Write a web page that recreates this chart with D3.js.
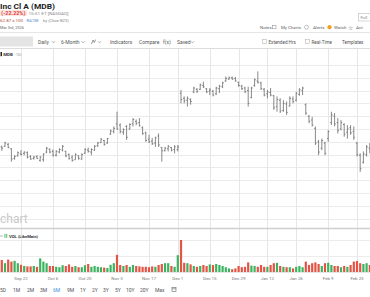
<!DOCTYPE html>
<html>
<head>
<meta charset="utf-8">
<script src="https://cdn.jsdelivr.net/npm/d3@7"></script>
<style>
  body { margin: 0; background: #fff; }
  svg { display: block; font-family: Roboto, "Open Sans", sans-serif; }
</style>
</head>
<body>
<div id="chart"></div>
<script>
// calendar of the visible session days
var startDay = "2025-09-11";
var endDay = "2026-03-03";
var holidays = ["2025-11-27", "2025-12-25", "2026-01-01", "2026-01-19", "2026-02-16"];
var tickDates = ["2025-09-22", "2025-10-06", "2025-10-20", "2025-11-03", "2025-11-17", "2025-12-01",
                 "2025-12-15", "2025-12-29", "2026-01-12", "2026-01-26", "2026-02-09", "2026-02-23"];

// daily OHLC, one value per session from Sep 11
var open = [309,312,313,316,309,294,298,301,302,303, 297,294,297,291,292,304,308,305,299,304,
            307,305,300,296,292,298,293,302,307,304, 307,314,319,322,318,332,336,348,346,335,
            344,340,348,352,350,342,334,324,321,318, 329,311,306,309,311,308,308,396,388,385,
            386,398,402,402,408,403,399,399,395,403, 406,415,418,420,419,413,407,404,400,389,
            408,415,412,402,395,397,392,375,385,369, 379,376,387,385,394,400,378,360,354,341,
            320,310,318,325,350,360,350,340,347,335, 342,336,318,299,288,300,310];
var high = [315,314,320,318,310,299,305,307,305,305, 299,298,299,298,302,312,310,308,307,310,
            315,306,302,299,302,299,302,310,311,310, 315,320,326,323,326,339,344,367,349,341,
            346,349,357,355,357,344,336,331,326,328, 333,312,312,315,312,315,315,401,391,391,
            388,406,404,411,414,404,404,401,406,409, 414,422,422,422,421,414,409,406,406,406,
            419,430,414,404,401,404,393,391,388,385, 383,391,391,398,404,406,380,362,359,344,
            323,325,320,338,367,365,357,354,349,346, 346,344,320,302,305,315,318];
var low = [307,306,312,310,289,292,297,299,299,294, 292,292,293,289,289,302,302,297,297,302,
           305,296,292,289,292,292,292,301,303,299, 306,312,318,314,317,331,333,339,333,331,
           323,339,344,346,344,331,320,318,315,312, 312,289,305,305,305,302,305,380,380,375,
           378,396,396,401,404,396,393,391,393,396, 404,414,417,417,414,406,401,396,375,388,
           406,411,401,391,388,391,370,367,365,367, 362,375,380,383,392,393,362,349,344,315,
           299,307,299,320,346,344,333,338,328,325, 331,323,297,273,286,297,302];
var close = [312,310,318,311,293,297,303,300,304,296, 293,296,294,296,301,310,304,299,305,308,
             313,298,294,291,300,294,300,308,305,308, 313,318,324,316,325,337,341,340,336,339,
             327,347,355,349,345,333,322,320,317,326, 315,306,310,313,307,312,312,386,384,388,
             383,404,399,409,406,398,401,393,404,407, 412,419,420,418,415,408,403,398,380,404,
             417,413,403,393,398,393,373,386,368,380, 366,388,383,396,401,404,365,352,346,318,
             304,322,302,336,362,348,338,350,332,340, 334,327,300,278,301,312,306];
// volume in millions
var volume = [3.0,3.0,2.2,3.1,2.6,2.8,2.2,1.8,1.5,1.4, 1.4,1.5,1.3,3.4,2.6,2.2,1.5,1.5,1.3,1.2,
              1.7,1.5,1.9,1.3,1.5,1.2,1.2,1.7,2.0,1.3, 1.5,1.3,1.2,1.1,1.0,1.8,2.2,4.3,1.75,1.5,
              1.75,1.3,1.75,1.5,1.4,1.3,1.3,1.2,1.4,1.3, 1.75,2.0,2.2,2.2,1.5,1.3,4.2,8.0,2.3,2.2,
              1.9,1.5,1.3,1.5,1.75,1.5,1.9,1.75,2.0,1.75, 1.5,1.2,0.9,0.7,0.9,1.5,1.2,1.3,2.4,1.6,
              1.5,1.3,1.75,1.3,1.3,1.75,2.2,2.3,1.5,1.3, 1.2,1.2,0.9,1.3,1.5,1.2,2.6,1.75,2.2,2.4,
              2.0,1.5,2.2,2.3,1.75,1.5,1.5,1.2,1.5,1.3, 1.75,2.6,2.75,2.2,2.0,2.2,1.75];

var periods = ["5D", "1M", "2M", "3M", "6M", "9M", "1Y", "2Y", "3Y", "5Y", "10Y", "20Y", "Max"];
var periodX = [0, 13, 27, 40, 53, 67, 80, 92, 103, 115, 126, 140, 155];

var width = 370, height = 297;
var svg = d3.select("#chart").append("svg")
  .attr("width", width)
  .attr("height", height);

var parse = d3.timeParse("%Y-%m-%d"), fmt = d3.timeFormat("%Y-%m-%d");
var days = d3.timeDay.range(parse(startDay), d3.timeDay.offset(parse(endDay), 1))
  .filter(d => d.getDay() != 0 && d.getDay() != 6 && holidays.indexOf(fmt(d)) < 0)
  .map(fmt);

var rows = open.map((o, i) => ({ date: days[i], o: o, h: high[i], l: low[i], c: close[i], v: volume[i] }));

// panes
var priceTop = 49, priceBottom = 227, volTop = 228, volBottom = 272;

var x = d3.scalePoint().domain(days).range([-1.4, 376.2]);
var yPrice = d3.scaleLinear().domain([186.9, 465]).range([priceBottom, priceTop]);
var yVol = d3.scaleLinear().domain([0, 11]).range([volBottom, volTop]);

function label(g, px, py, txt, size, color, weight, fit) {
  var t = g.append("text")
    .attr("x", px).attr("y", py)
    .attr("font-size", size)
    .attr("fill", color)
    .attr("font-weight", weight || "normal")
    .text(txt);
  if (fit) t.attr("textLength", fit).attr("lengthAdjust", "spacingAndGlyphs");
  return t;
}
function chevron(g, px, py) {
  g.append("path")
    .attr("d", `M${px},${py} l1.5,1.5 l1.5,-1.5`)
    .attr("fill", "none").attr("stroke", "#777").attr("stroke-width", 0.6);
}

// ---- header ----
var head = svg.append("g");
label(head, 0, 8.5, "Inc Cl A (MDB)", 8, "#222", "bold", 55);
head.append("rect").attr("x", 0).attr("y", 9.8).attr("width", 27).attr("height", 6.2)
  .attr("rx", 1).attr("fill", "#fde3e1");
label(head, 1.3, 14.6, "(-22.22%)", 5.3, "#d9443a", "bold", 24);
label(head, 28.5, 14.6, "15:51 ET [NASDAQ]", 4.2, "#8a8a8a", null, 40);
label(head, 0, 21.6, "62.87 x 100", 4.2, "#b04a3c", null, 23);
label(head, 26.5, 21.6, "REALTIME", 3.8, "#4b8bc8", null, 12);
label(head, 43, 21.6, "by (Cboe BZX)", 4.2, "#8a8a8a", null, 26);
label(head, 0, 28.6, "Mar 3rd, 2026", 4.2, "#666", null, 24);

head.append("rect").attr("x", 358.5).attr("y", 13.5).attr("width", 14).attr("height", 7.5)
  .attr("fill", "#fff").attr("stroke", "#bbb").attr("stroke-width", 0.6);
label(head, 360.5, 19, "Full", 4.3, "#888");

label(head, 260, 29, "Notes", 4.4, "#666");
head.append("rect").attr("x", 272.5).attr("y", 25.3).attr("width", 3.5).attr("height", 3.5)
  .attr("fill", "none").attr("stroke", "#888").attr("stroke-width", 0.5);
label(head, 281, 29, "My Charts", 4.4, "#666");
head.append("circle").attr("cx", 306.5).attr("cy", 27.2).attr("r", 2)
  .attr("fill", "none").attr("stroke", "#888").attr("stroke-width", 0.5);
label(head, 313, 29, "Alerts", 4.4, "#666");
head.append("circle").attr("cx", 329.5).attr("cy", 27.2).attr("r", 2.1).attr("fill", "#f0a020");
label(head, 334, 29, "Watch", 4.4, "#666");
label(head, 347.5, 29.5, "☆", 6, "#666");
label(head, 356, 29, "Act", 4.4, "#666");

head.append("line").attr("x1", 0).attr("x2", width).attr("y1", 32.5).attr("y2", 32.5)
  .attr("stroke", "#e6e6e6");

// ---- toolbar ----
var bar = svg.append("g");
bar.append("rect").attr("x", 0).attr("y", 36.5).attr("width", 33).attr("height", 10).attr("fill", "#e4e4e4");
label(bar, 38, 43.6, "Daily", 5, "#555"); chevron(bar, 52, 41.3);
label(bar, 61, 43.6, "6-Month", 5, "#555"); chevron(bar, 81.5, 41.3);
bar.append("path").attr("d", "M91.5,44 l1.6,-4 l1.2,2.5 l1.4,-3")
  .attr("fill", "none").attr("stroke", "#555").attr("stroke-width", 0.6);
chevron(bar, 98, 41.3);
label(bar, 110, 43.6, "Indicators", 5, "#555");
label(bar, 139, 43.6, "Compare", 5, "#555");
label(bar, 163, 43.6, "f(x)", 5, "#555");
label(bar, 177, 43.6, "Saved", 5, "#555"); chevron(bar, 191, 41.3);

bar.append("rect").attr("x", 262.5).attr("y", 39.5).attr("width", 4).attr("height", 4)
  .attr("fill", "#fff").attr("stroke", "#aaa").attr("stroke-width", 0.5);
label(bar, 268.5, 43.6, "Extended Hrs", 4.6, "#555");
bar.append("rect").attr("x", 305.5).attr("y", 39.5).attr("width", 4).attr("height", 4)
  .attr("fill", "#fff").attr("stroke", "#aaa").attr("stroke-width", 0.5);
label(bar, 311.5, 43.6, "Real-Time", 4.6, "#555");
label(bar, 342, 43.6, "Templates", 4.6, "#555");

// ---- grid ----
var grid = svg.append("g");
grid.selectAll(".hg")
  .data(yPrice.ticks(14).filter(t => t <= 450))
  .enter().append("line")
  .attr("x1", 0).attr("x2", width)
  .attr("y1", d => Math.round(yPrice(d)) + 0.5)
  .attr("y2", d => Math.round(yPrice(d)) + 0.5)
  .attr("stroke", "#ebebeb");
grid.selectAll(".vg")
  .data([4, 8])
  .enter().append("line")
  .attr("x1", 0).attr("x2", width)
  .attr("y1", d => yVol(d) + 0.5).attr("y2", d => yVol(d) + 0.5)
  .attr("stroke", "#ececec");
grid.selectAll(".xg")
  .data(tickDates)
  .enter().append("line")
  .attr("x1", d => Math.round(x(d)) + 0.5).attr("x2", d => Math.round(x(d)) + 0.5)
  .attr("y1", priceTop).attr("y2", volBottom + 1)
  .attr("stroke", "#e6e6e6");
grid.append("line").attr("x1", 0).attr("x2", width).attr("y1", 48.5).attr("y2", 48.5)
  .attr("stroke", "#dcdcdc");
grid.append("line").attr("x1", 0).attr("x2", width).attr("y1", volBottom + 0.5).attr("y2", volBottom + 0.5)
  .attr("stroke", "#e6e6e6");

// watermark
svg.append("text").attr("x", 0).attr("y", 223).attr("font-size", 12)
  .attr("fill", "#c9c9c9").text("chart");

// pane divider
svg.append("line").attr("x1", 0).attr("x2", width).attr("y1", 228.5).attr("y2", 228.5)
  .attr("stroke", "#cfcfcf").attr("stroke-width", 1.4);

// ---- price bars (OHLC) ----
svg.append("g").selectAll("path")
  .data(rows)
  .enter().append("path")
  .attr("d", d => {
    var cx = x(d.date);
    return `M${cx},${yPrice(d.h)}V${yPrice(d.l)}` +
      `M${cx - 1.2},${yPrice(d.o)}H${cx}` +
      `M${cx},${yPrice(d.c)}H${cx + 1.2}`;
  })
  .attr("fill", "none")
  .attr("stroke", "#6a6a6a")
  .attr("stroke-width", 0.8);

// ---- volume bars ----
svg.append("g").selectAll("rect")
  .data(rows)
  .enter().append("rect")
  .attr("x", d => x(d.date) - 1.1)
  .attr("width", 2.2)
  .attr("y", d => yVol(d.v))
  .attr("height", d => volBottom - yVol(d.v))
  .attr("fill", d => d.c >= d.o ? "#3bb35f" : "#e25545");

// legends
svg.append("rect").attr("x", 0.5).attr("y", 52).attr("width", 1.5).attr("height", 4.2).attr("fill", "#222");
label(svg, 3.2, 56, "MDB", 4.4, "#333", "bold");
label(svg, 14.5, 56, "·1D·", 4.4, "#999");

svg.append("line").attr("x1", 0).attr("x2", 3).attr("y1", 236).attr("y2", 236)
  .attr("stroke", "#999").attr("stroke-width", 0.7);
svg.append("rect").attr("x", 4.5).attr("y", 233.8).attr("width", 0.9).attr("height", 4).attr("fill", "#3bb35f");
svg.append("rect").attr("x", 6.3).attr("y", 233.8).attr("width", 0.9).attr("height", 4).attr("fill", "#3bb35f");
label(svg, 9, 237.8, "VOL (LikeMain)", 4.2, "#333", "bold");

// ---- x axis labels ----
var xfmt = d3.timeFormat("%b %-d");
svg.append("g").selectAll("text")
  .data(tickDates)
  .enter().append("text")
  .attr("x", d => x(d))
  .attr("y", 279.6)
  .attr("text-anchor", "middle")
  .attr("font-size", 4.4)
  .attr("fill", "#777")
  .text(d => xfmt(parse(d)));

// ---- period buttons ----
svg.append("g").selectAll("text")
  .data(periods)
  .enter().append("text")
  .attr("x", (d, i) => periodX[i])
  .attr("y", 292)
  .attr("font-size", 5)
  .attr("fill", d => d == "6M" ? "#3b8fd6" : "#555")
  .text(d => d);
svg.append("rect").attr("x", 172).attr("y", 287.5).attr("width", 4).attr("height", 4)
  .attr("fill", "none").attr("stroke", "#666").attr("stroke-width", 0.6);
svg.append("line").attr("x1", 172).attr("x2", 176).attr("y1", 288.8).attr("y2", 288.8)
  .attr("stroke", "#666").attr("stroke-width", 0.6);
</script>
</body>
</html>
